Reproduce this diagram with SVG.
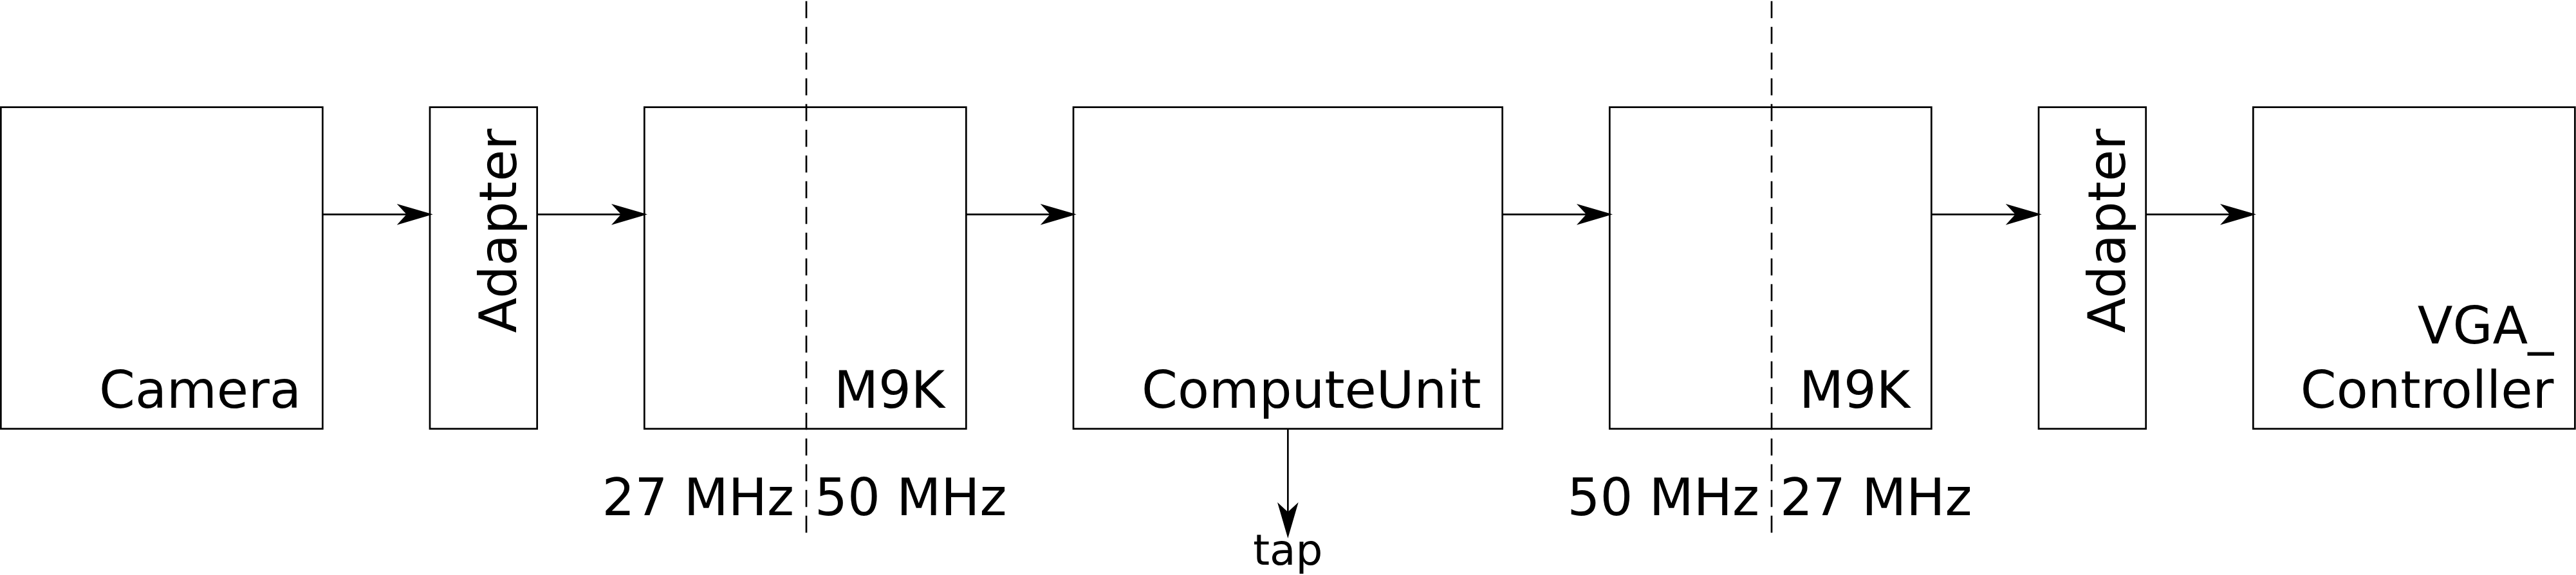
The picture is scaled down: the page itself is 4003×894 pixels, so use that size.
<svg xmlns="http://www.w3.org/2000/svg" width="4003" height="894" viewBox="0 0 4003 894">
<style>
.box{fill:#fff;stroke:#000;stroke-width:2.7}
.lbl{font-family:"DejaVu Sans",sans-serif;font-size:80px;fill:#000}
.end{text-anchor:end}
.conn{fill:none;stroke:#000;stroke-width:2.7}
.dash{fill:none;stroke:#000;stroke-width:2.7;stroke-dasharray:26.67 13.33}
</style>
<defs>
<marker id="arr" markerUnits="userSpaceOnUse" markerWidth="60" markerHeight="36" refX="36" refY="16.3" orient="auto" viewBox="0 0 60 36" overflow="visible">
<path d="M56,16.3 L0,32.6 L15,16.3 L0,0 Z" fill="#000"/>
</marker>
</defs>
<rect width="4003" height="894" fill="#fff"/>
<g id="camera"><rect class="box" x="1.33" y="166.67" width="500" height="500"/><text class="lbl end" x="468" y="634">Camera</text></g>
<g id="adapter1"><rect class="box" x="668" y="166.67" width="166.67" height="500"/><text class="lbl end" transform="translate(801.7,200) rotate(-90)">Adapter</text></g>
<g id="m9k1"><rect class="box" x="1001.33" y="166.67" width="500" height="500"/><text class="lbl end" x="1468.3" y="634">M9K</text></g>
<g id="computeunit"><rect class="box" x="1668" y="166.67" width="666.67" height="500"/><text class="lbl end" x="2301.7" y="634">ComputeUnit</text></g>
<g id="m9k2"><rect class="box" x="2501.33" y="166.67" width="500" height="500"/><text class="lbl end" x="2968.3" y="634">M9K</text></g>
<g id="adapter2"><rect class="box" x="3168" y="166.67" width="166.67" height="500"/><text class="lbl end" transform="translate(3301.7,200) rotate(-90)">Adapter</text></g>
<g id="vga"><rect class="box" x="3501.33" y="166.67" width="500" height="500"/><text class="lbl end" x="3968.3" y="534">VGA_</text><text class="lbl end" x="3968.3" y="634">Controller</text></g>
<g id="clock-domains">
<line class="dash" x1="1253" y1="1.67" x2="1253" y2="828.33"/>
<line class="dash" x1="2753" y1="1.67" x2="2753" y2="828.33"/>
<text class="lbl end" x="1234" y="801">27 MHz</text>
<text class="lbl" x="1266" y="801">50 MHz</text>
<text class="lbl end" x="2734" y="801">50 MHz</text>
<text class="lbl" x="2766" y="801">27 MHz</text>
</g>
<g id="connectors">
<path class="conn" marker-end="url(#arr)" d="M501.33,333.33 H652.7"/>
<path class="conn" marker-end="url(#arr)" d="M834.67,333.33 H986"/>
<path class="conn" marker-end="url(#arr)" d="M1501.33,333.33 H1652.7"/>
<path class="conn" marker-end="url(#arr)" d="M2334.67,333.33 H2486"/>
<path class="conn" marker-end="url(#arr)" d="M3001.33,333.33 H3152.7"/>
<path class="conn" marker-end="url(#arr)" d="M3334.67,333.33 H3486"/>
<path class="conn" marker-end="url(#arr)" d="M2001.33,666.67 V817"/>
</g>
<g id="tap"><text class="lbl" x="2001.33" y="878" style="font-size:66px;text-anchor:middle">tap</text></g>
</svg>
